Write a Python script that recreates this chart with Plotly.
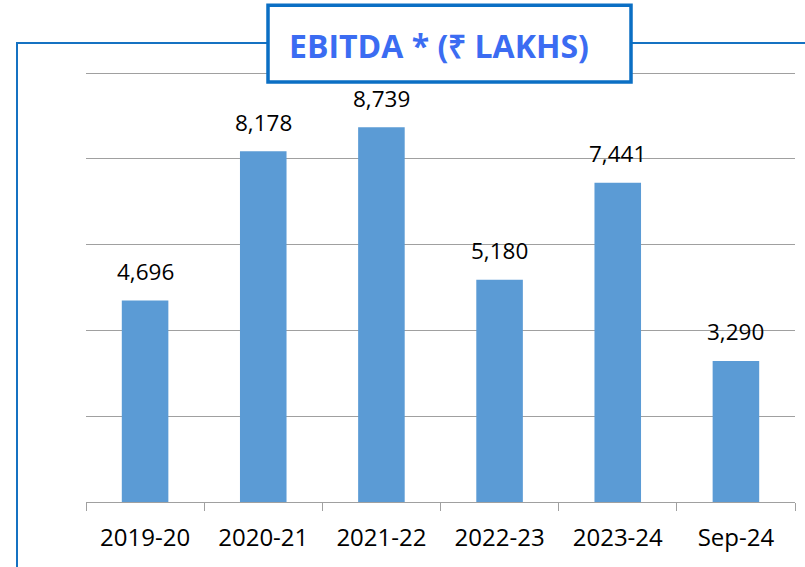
import plotly.graph_objects as go

categories = ["2019-20", "2020-21", "2021-22", "2022-23", "2023-24", "Sep-24"]
ebitda = [4696, 8178, 8739, 5180, 7441, 3290]
title_text = "EBITDA * (₹ LAKHS)"

W, H = 805, 567
L, R, T, B = 86, 795, 73, 502  # plot area pixels


def px(x):
    return (x - L) / (R - L)


def py(y):
    return (B - y) / (B - T)


fig = go.Figure()
fig.add_trace(go.Bar(
    x=categories, y=ebitda,
    marker=dict(color="#5B9BD5", line=dict(width=0)),
    hoverinfo="skip",
))

annotations = []
for c, v in zip(categories, ebitda):
    annotations.append(dict(
        x=c, y=v, xref="x", yref="y", text=f"{v:,}", showarrow=False,
        yanchor="middle", yshift=29,
        font=dict(family="Open Sans", size=22.5, color="#000000"),
    ))
annotations.append(dict(
    x=px(439), y=py(47), xref="paper", yref="paper", text=title_text,
    showarrow=False, xanchor="center", yanchor="middle",
    font=dict(family="Open Sans", size=32, color="#3B6CF2", weight="bold"),
))

shapes = [
    dict(type="rect", xref="paper", yref="paper",
         x0=px(17), x1=px(830), y0=py(600), y1=py(44),
         line=dict(color="#1572C2", width=2), fillcolor="rgba(0,0,0,0)", layer="above"),
    dict(type="rect", xref="paper", yref="paper",
         x0=px(268), x1=px(631), y0=py(83), y1=py(6.5),
         line=dict(color="#0B6FC4", width=3.5), fillcolor="#FFFFFF", layer="above"),
]

fig.update_layout(
    width=W, height=H,
    margin=dict(l=L, r=W - R, t=T - 1, b=H - B),
    paper_bgcolor="#FFFFFF", plot_bgcolor="#FFFFFF",
    showlegend=False, bargap=0.606,
    annotations=annotations, shapes=shapes,
    xaxis=dict(
        type="category", showgrid=False, showline=True, linecolor="#A0A0A0", linewidth=1,
        ticks="outside", tickson="boundaries", ticklen=8, tickcolor="#A0A0A0", tickwidth=1,
        ticklabelstandoff=14,
        tickfont=dict(family="Open Sans", size=24, color="#000000"),
    ),
    yaxis=dict(
        range=[0, 10025], dtick=2000, showgrid=True, gridcolor="#A0A0A0", gridwidth=1,
        showticklabels=False, zeroline=False, showline=False, ticks="",
    ),
)

fig.write_html(
    "out.html",
    config={"displayModeBar": False},
    post_script="document.body.style.margin='0';document.body.style.overflow='hidden';",
)
